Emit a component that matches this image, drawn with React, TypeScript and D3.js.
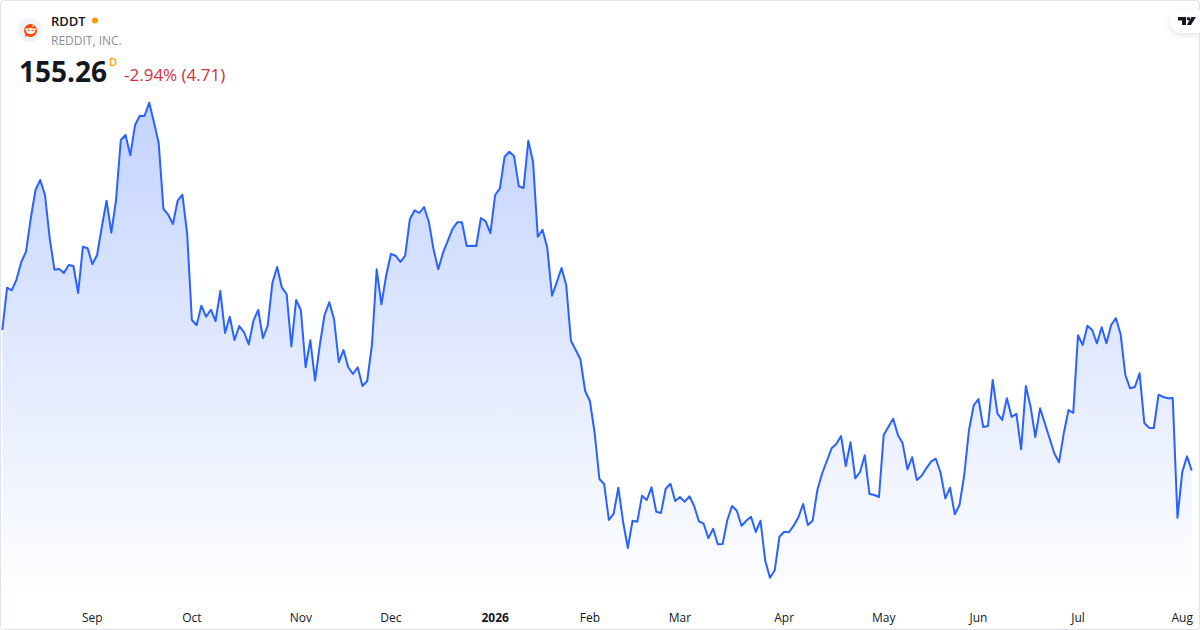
import React, { useEffect } from "react";
import * as d3 from "d3";

const closes: number[] = [
  202.09,216.19,215.32,219.0,224.76,228.19,239.33,248.76,252.09,247.09,232.66,222.19,222.42,221.09,223.76,223.42,214.42,229.86,229.32,223.99,
  227.09,236.52,245.19,234.52,245.42,265.42,267.09,260.32,270.32,273.52,273.42,277.86,271.32,264.32,242.42,240.52,237.42,245.19,247.19,234.32,
  205.42,203.66,210.19,206.52,208.86,205.09,215.09,201.09,206.52,198.76,203.42,201.42,197.32,205.19,208.76,199.42,203.52,217.86,223.09,216.19,
  214.09,196.66,212.09,208.76,189.66,198.66,185.19,197.09,207.09,211.32,205.76,191.42,195.42,189.66,187.42,189.66,183.42,185.09,197.09,222.32,
  210.66,220.19,227.42,226.86,224.76,226.76,238.99,241.99,241.09,243.09,238.19,228.99,222.32,227.86,231.76,235.76,237.99,237.99,230.09,230.19,
  230.09,239.42,238.32,234.42,247.09,249.32,259.86,261.52,259.99,249.99,249.42,265.19,258.19,233.19,235.52,229.52,213.52,217.99,222.76,217.09,
  198.52,195.42,192.32,181.76,178.42,167.76,152.42,150.76,138.76,140.76,149.52,138.19,129.42,138.52,138.19,146.86,145.42,149.66,141.52,141.09,
  149.19,150.86,145.09,146.42,144.86,146.66,143.42,138.32,137.52,132.66,135.86,130.66,130.76,138.76,143.42,141.86,136.86,138.52,139.86,134.76,
  138.52,125.19,119.52,121.99,133.19,134.86,134.66,136.86,139.66,144.09,137.09,138.52,148.76,154.26,158.42,162.66,164.09,166.76,156.76,164.66,
  152.66,154.76,160.32,147.42,147.09,146.42,167.09,169.86,172.52,167.09,164.32,155.66,159.66,152.09,153.52,155.99,158.19,159.19,154.52,145.99,
  149.52,140.66,143.76,153.76,168.76,176.99,179.09,169.76,170.09,185.42,174.32,172.09,179.32,173.09,174.19,162.32,183.42,176.52,166.42,175.99,
  170.99,165.99,160.99,157.99,167.66,175.42,174.42,200.32,197.09,203.52,202.09,197.66,203.0,197.66,203.76,206.09,200.66,187.09,182.66,183.09,
  187.66,171.09,169.52,169.42,180.52,179.76,179.32,179.42,139.52,154.66,159.97,155.26,
];

const tickLabels: string[] = ["Sep","Oct","Nov","Dec","2026","Feb","Mar","Apr","May","Jun","Jul","Aug"];
const tickIndexes: number[] = [19,40,63,82,104,124,143,165,186,206,227,249];
const symbol = "RDDT";
const company = "REDDIT, INC.";
const lastPrice = "155.26";
const changeText = "-2.94% (4.71)";

const W = 1200, H = 630;
const FONT = "'Open Sans', 'Noto Sans', sans-serif";
const x = d3.scaleLinear().domain([0, closes.length - 1]).range([2.33, 1191.7]);
const y = d3.scaleLinear().domain([312.09, 102.09]).range([0, H]);
const line = d3.line<number>().x((_, i) => x(i)).y((d) => y(d));
const area = d3.area<number>().x((_, i) => x(i)).y0(600).y1((d) => y(d));

export default function App() {
  useEffect(() => { document.body.style.margin = "0"; document.body.style.background = "#fff"; }, []);
  return (
    <svg width={W} height={H} viewBox={`0 0 ${W} ${H}`} style={{ display: "block", position: "fixed", left: 0, top: 0 }}>
      <defs>
        <linearGradient id="areaFill" gradientUnits="userSpaceOnUse" x1="0" y1="102" x2="0" y2="600">
          <stop offset="0" stopColor="#2962FF" stopOpacity={0.28} />
          <stop offset="1" stopColor="#2962FF" stopOpacity={0.0} />
        </linearGradient>
        <filter id="tvShadow" x="-50%" y="-50%" width="200%" height="200%">
          <feDropShadow dx="0" dy="2" stdDeviation="3" floodColor="#000" floodOpacity="0.12" />
        </filter>
      </defs>
      <rect x={0} y={0} width={W} height={H} fill="#fff" />
      <path d={area(closes) ?? ""} fill="url(#areaFill)" />
      <path d={line(closes) ?? ""} fill="none" stroke="#2962FF" strokeWidth={2} strokeLinejoin="round" />
      <rect x={0.5} y={0.5} width={W - 1} height={H - 1} rx={3} fill="none" stroke="#E0E3EB" />
      {tickLabels.map((t, i) => (
        <text key={t} x={x(tickIndexes[i])} y={622} textAnchor="middle" fontFamily={FONT} fontSize={12}
          fontWeight={t === "2026" ? 700 : 400} fill={t === "2026" ? "#131722" : "#131722"}>{t}</text>
      ))}
      <circle cx={30} cy={30} r={12} fill="#F0F3FA" />
      <circle cx={30.5} cy={30.5} r={6.5} fill="#FF4500" />
      <path d="M24.5 36.5 L27 33 L29 36 Z" fill="#FF4500" />
      <ellipse cx={30.5} cy={31} rx={4.4} ry={3} fill="#fff" />
      <circle cx={25.8} cy={29.3} r={1} fill="#fff" />
      <circle cx={35.2} cy={29.3} r={1} fill="#fff" />
      <circle cx={33.3} cy={25.9} r={0.9} fill="#fff" />
      <circle cx={28.8} cy={30.4} r={0.8} fill="#FF4500" />
      <circle cx={32.2} cy={30.4} r={0.8} fill="#FF4500" />
      <text x={51} y={26} fontFamily={FONT} fontSize={13} fontWeight={600} fill="#131722">{symbol}</text>
      <circle cx={95} cy={20.5} r={3} fill="#FF9800" />
      <text x={51} y={45} fontFamily={FONT} fontSize={12} fill="#8C8F99">{company}</text>
      <text x={19} y={82} fontFamily={FONT} fontSize={28} fontWeight={700} fill="#131722">{lastPrice}</text>
      <text x={109} y={66} fontFamily={FONT} fontSize={11} fontWeight={600} fill="#FF9800">D</text>
      <text x={124} y={81} fontFamily={FONT} fontSize={17} fill="#D32F3F">{changeText}</text>
      <path d="M1200 10 H1182 A11 11 0 0 0 1182 33 H1200 Z" fill="#fff" filter="url(#tvShadow)" />
      <path d="M1178 17 H1186 V25 H1182 V20.5 H1178 Z" fill="#131722" />
      <circle cx={1188.5} cy={18.7} r={1.7} fill="#131722" />
      <path d="M1191.5 17 H1196 L1191 25 H1186.8 Z" fill="#131722" />
    </svg>
  );
}
